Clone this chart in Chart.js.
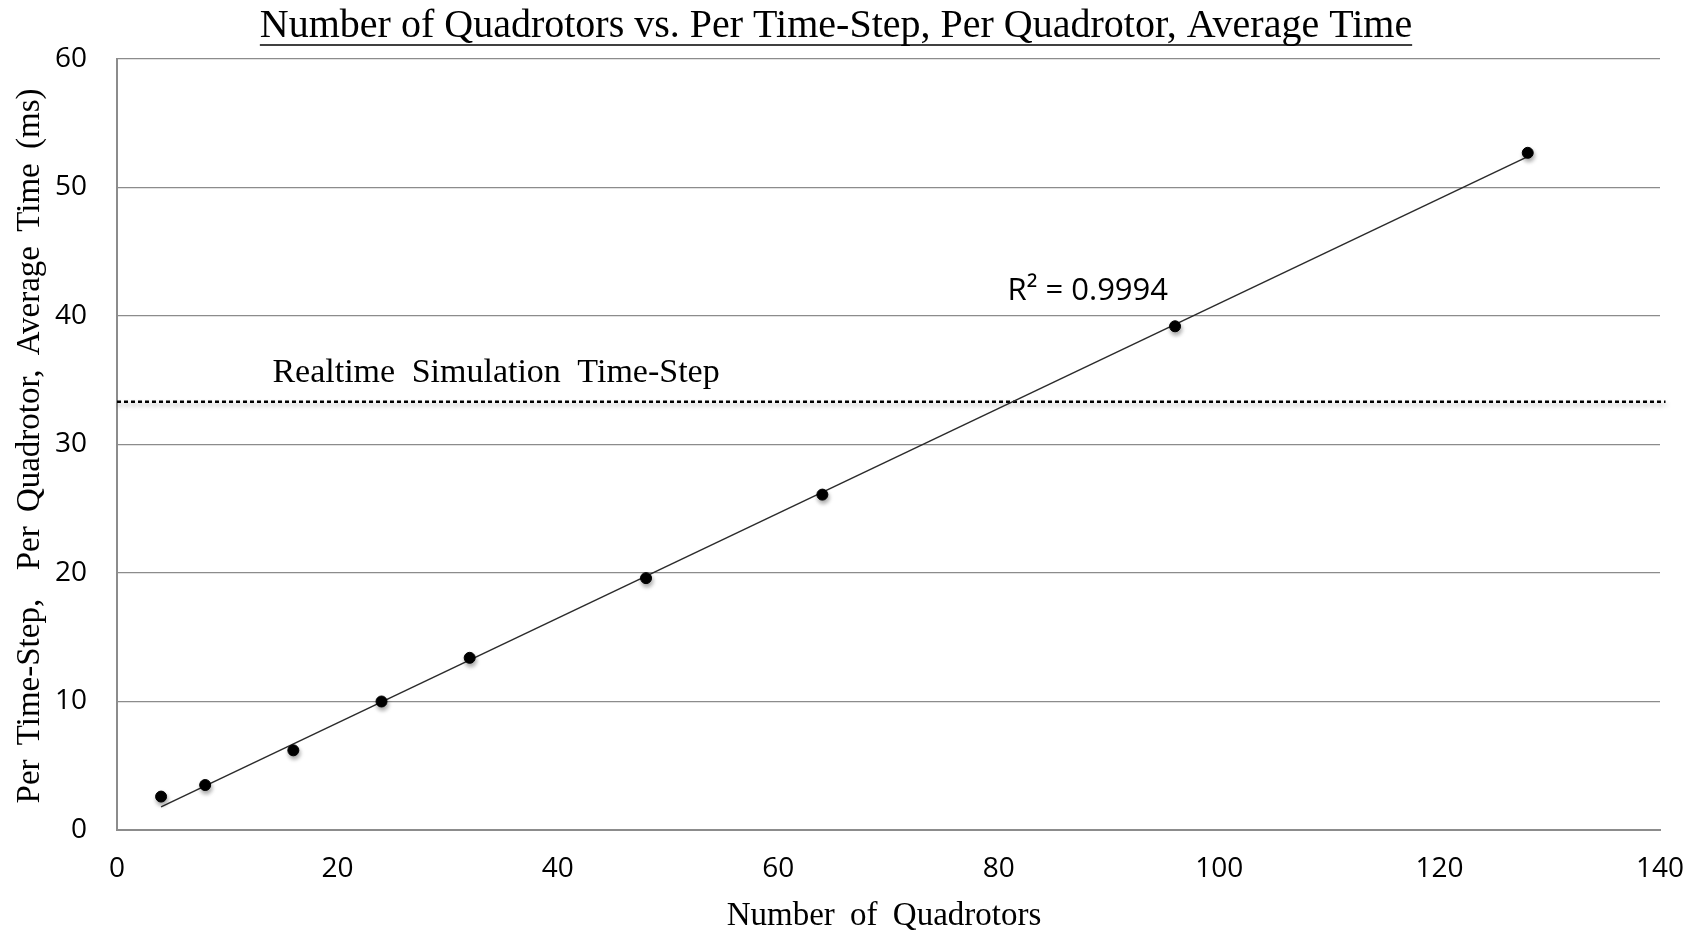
<!DOCTYPE html>
<html>
<head>
<meta charset="utf-8">
<script src="https://cdn.jsdelivr.net/npm/chart.js@4.4.1/dist/chart.umd.min.js"></script>
<style>
  html, body { margin: 0; padding: 0; background: #fff; }
  #wrap { width: 1696px; height: 936px; position: relative; }
</style>
</head>
<body>
<div id="wrap"><canvas id="chart"></canvas></div>
<script>
// measured points (quadrotor count, ms per step)
const quadrotors = [4, 8, 16, 24, 32, 48, 64, 96, 128];
const avgTimeMs = [2.6, 3.5, 6.2, 10.0, 13.4, 19.6, 26.1, 39.2, 52.7];

// linear trendline endpoints
const trendX = [4, 128];
const trendY = [1.8, 52.4];

// realtime limit (30 fps)
const realtimeX = [0, 140.5];
const realtimeY = [33.33, 33.33];

const xTicks = [0, 20, 40, 60, 80, 100, 120, 140];
const yTicks = [0, 10, 20, 30, 40, 50, 60];

const chartTitle = 'Number of Quadrotors vs. Per Time-Step, Per Quadrotor, Average Time';
const xTitle = 'Number of Quadrotors';
const yTitle = 'Per Time-Step,  Per Quadrotor, Average Time (ms)';
const realtimeLabel = 'Realtime Simulation Time-Step';
const r2Label = 'R\u00b2 = 0.9994';

const SERIF = '"Liberation Serif", "Times New Roman", serif';
const SANS = '"Open Sans", Calibri, sans-serif';
const GRID = '#8c8c8c';

const zip = (xs, ys) => xs.map((x, i) => ({ x: x, y: ys[i] }));

// drop shadow for the markers and the dotted line, like the office chart
const shadowPlugin = {
    id: 'shadow',
    beforeDatasetDraw(chart, args) {
        const ctx = chart.ctx;
        ctx.save();
        if (args.index === 0 || args.index === 2) {
            ctx.shadowColor = 'rgba(0,0,0,0.35)';
            ctx.shadowBlur = 4;
            ctx.shadowOffsetX = 1;
            ctx.shadowOffsetY = 3;
        }
    },
    afterDatasetDraw(chart) {
        chart.ctx.restore();
    }
};

const textPlugin = {
    id: 'texts',
    afterDraw(chart) {
        const ctx = chart.ctx;
        const xs = chart.scales.x, ys = chart.scales.y;
        ctx.save();
        ctx.fillStyle = '#000';
        ctx.strokeStyle = '#000';

        // title, underlined
        ctx.font = '40px ' + SERIF;
        ctx.textAlign = 'center';
        ctx.textBaseline = 'middle';
        const cx = 836;
        ctx.fillText(chartTitle, cx, 26);
        const tw = ctx.measureText(chartTitle).width;
        ctx.lineWidth = 1.6;
        ctx.beginPath();
        ctx.moveTo(cx - tw / 2, 45);
        ctx.lineTo(cx + tw / 2, 45);
        ctx.stroke();

        // axis titles
        ctx.font = '33px ' + SERIF;
        ctx.wordSpacing = '7px';
        ctx.fillText(xTitle, 884, 916);
        ctx.save();
        ctx.translate(30, 446);
        ctx.rotate(-Math.PI / 2);
        ctx.wordSpacing = '6px';
        ctx.fillText(yTitle, 0, 0);
        ctx.restore();

        // realtime label above dotted line
        ctx.textAlign = 'left';
        ctx.font = '34px ' + SERIF;
        ctx.wordSpacing = '8px';
        ctx.fillText(realtimeLabel, xs.getPixelForValue(14.1), ys.getPixelForValue(realtimeY[0]) - 29);

        // R squared
        ctx.wordSpacing = '0px';
        ctx.font = '31px ' + SANS;
        ctx.fillText(r2Label, xs.getPixelForValue(80.8), ys.getPixelForValue(41.9));
        ctx.restore();
    }
};

const chartCanvas = document.querySelector('#chart');
new Chart(chartCanvas.getContext('2d'), {
    type: 'scatter',
    data: {
        datasets: [
            {
                label: 'Average time',
                data: zip(quadrotors, avgTimeMs),
                backgroundColor: '#000',
                borderColor: '#000',
                pointRadius: 5.5,
                pointHoverRadius: 5.5,
                order: 0
            },
            {
                label: 'Trend',
                data: zip(trendX, trendY),
                showLine: true,
                borderColor: '#2b2b2b',
                borderWidth: 1.5,
                pointRadius: 0,
                order: 1
            },
            {
                label: 'Realtime',
                data: zip(realtimeX, realtimeY),
                showLine: true,
                borderColor: '#000',
                borderWidth: 2.5,
                borderDash: [4, 3],
                pointRadius: 0,
                clip: false,
                order: 2
            }
        ]
    },
    options: {
        responsive: true,
        maintainAspectRatio: false,
        animation: false,
        layout: { padding: { top: 59, right: 36, left: 0, bottom: 0 } },
        plugins: {
            legend: { display: false },
            tooltip: { enabled: false },
            title: { display: false }
        },
        scales: {
            x: {
                type: 'linear',
                min: xTicks[0],
                max: xTicks[xTicks.length - 1],
                afterFit(scale) {
                    scale.height = 106;
                    scale.paddingLeft = 0;
                    scale.paddingRight = 0;
                },
                afterBuildTicks(scale) { scale.ticks = xTicks.map(v => ({ value: v })); },
                grid: { display: false, drawTicks: false },
                border: { display: true, color: GRID, width: 2 },
                ticks: {
                    color: '#000',
                    padding: 22,
                    font: { family: SANS, size: 28 }
                }
            },
            y: {
                type: 'linear',
                min: yTicks[0],
                max: yTicks[yTicks.length - 1],
                afterFit(scale) {
                    scale.width = 117;
                    scale.paddingTop = 0;
                    scale.paddingBottom = 0;
                },
                afterBuildTicks(scale) { scale.ticks = yTicks.map(v => ({ value: v })); },
                grid: { color: GRID, lineWidth: 1.2, drawTicks: false },
                border: { display: true, color: GRID, width: 2 },
                ticks: {
                    color: '#000',
                    padding: 30,
                    font: { family: SANS, size: 28 }
                }
            }
        }
    },
    plugins: [shadowPlugin, textPlugin]
});
</script>
</body>
</html>
